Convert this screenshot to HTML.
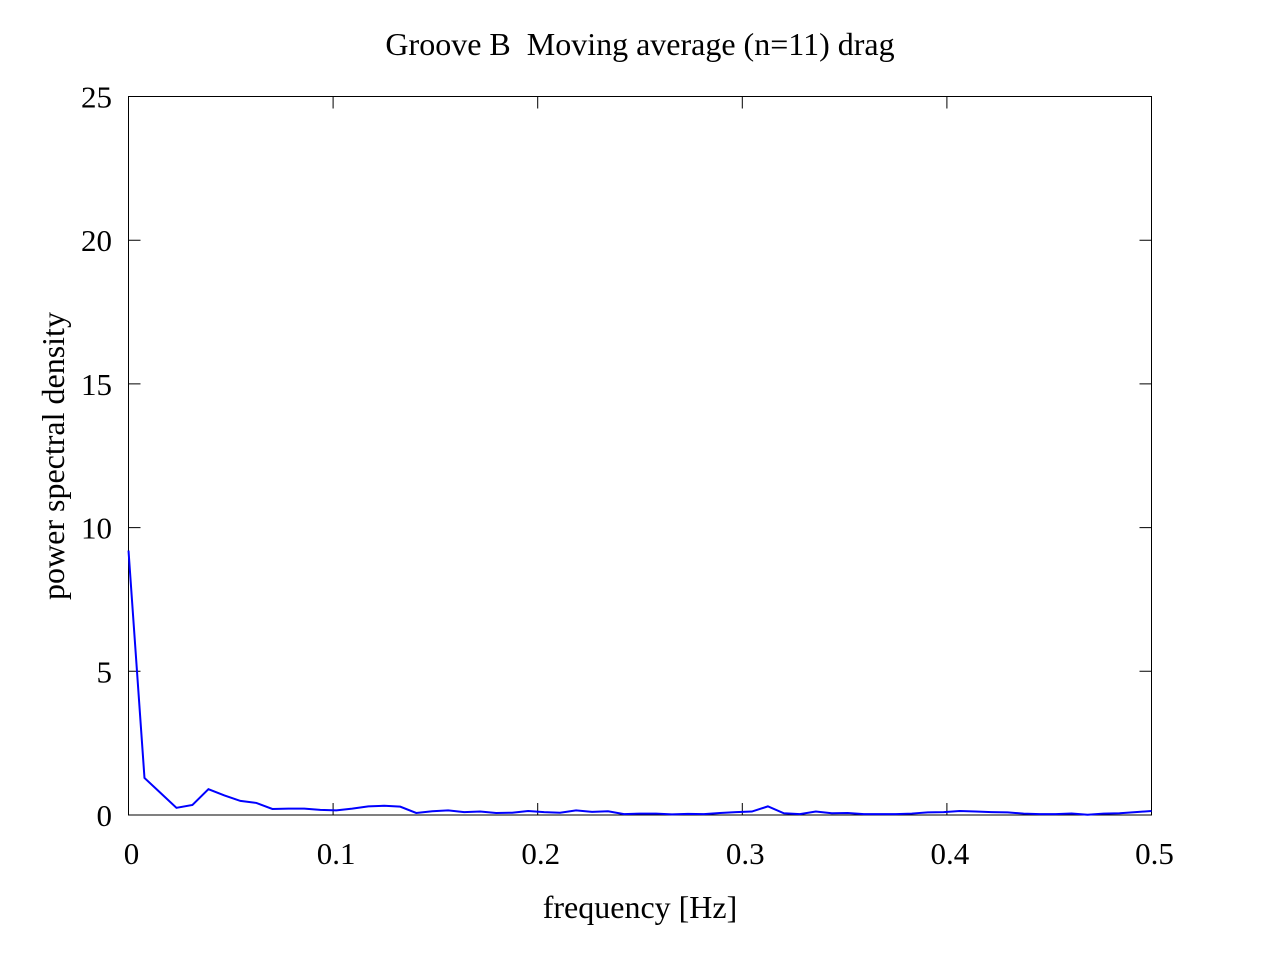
<!DOCTYPE html>
<html><head><meta charset="utf-8"><style>
body{margin:0;background:#fff}
svg text{font-family:"Liberation Serif",serif;font-size:31px;fill:#000;white-space:pre}
svg text.big{font-size:32px}
</style></head><body>
<svg id="chart" width="1280" height="960">
<text class="big" x="640" y="55" text-anchor="middle" xml:space="preserve">Groove B  Moving average (n=11) drag</text>
<rect x="128.5" y="96.5" width="1023" height="718.5" fill="none" stroke="#000" stroke-width="1"/>
<g id="ticks"></g>
<text class="big" x="640" y="918" text-anchor="middle">frequency [Hz]</text>
<text class="big" transform="translate(64,456) rotate(-90)" text-anchor="middle">power spectral density</text>
<polyline id="line" fill="none" stroke="#0000ff" stroke-width="2"/>
</svg>
<script>
const psdValues=[9.2,1.29,0.77,0.25,0.35,0.9,0.68,0.49,0.42,0.21,0.22,0.22,0.18,0.16,0.22,0.3,0.32,0.29,0.07,0.13,0.16,0.1,0.12,0.07,0.08,0.14,0.1,0.08,0.16,0.11,0.13,0.03,0.05,0.05,0.02,0.04,0.03,0.07,0.1,0.12,0.3,0.06,0.03,0.12,0.06,0.07,0.03,0.03,0.03,0.05,0.09,0.1,0.14,0.12,0.1,0.09,0.05,0.03,0.03,0.05,0.01,0.05,0.06,0.1,0.14];
const freqStep=1/128;
const xTicks=[0,0.1,0.2,0.3,0.4,0.5];
const xTickLabels=["0","0.1","0.2","0.3","0.4","0.5"];
const yTicks=[0,5,10,15,20,25];
const yTickLabels=["0","5","10","15","20","25"];
const X=v=>128.5+v/0.5*1023, Y=v=>815-v/25*718.5;
const ns="http://www.w3.org/2000/svg", g=document.getElementById('ticks');
function mk(t,a){const e=document.createElementNS(ns,t);for(const k in a)e.setAttribute(k,a[k]);return e;}
xTicks.forEach((v,i)=>{
  const x=X(v);
  let l=mk('path',{d:`M${x},815V803M${x},96.5V108.5`,stroke:'#000'});
  
  
  g.appendChild(l);
  let t=mk('text',{x:x+3,y:864,'text-anchor':'middle'});t.textContent=xTickLabels[i];
  
  
  g.appendChild(t);
});
yTicks.forEach((v,i)=>{
  const y=Y(v);
  let l=mk('path',{d:`M128.5,${y}H140.5M1151.5,${y}H1139.5`,stroke:'#000'});
  
  
  g.appendChild(l);
  let t=mk('text',{x:112,y:y+11,'text-anchor':'end'});t.textContent=yTickLabels[i];
  
  
  g.appendChild(t);
});
document.getElementById('line').setAttribute('points',psdValues.map((v,i)=>X(i*freqStep)+','+Y(v)).join(' '));
</script>
</body></html>
